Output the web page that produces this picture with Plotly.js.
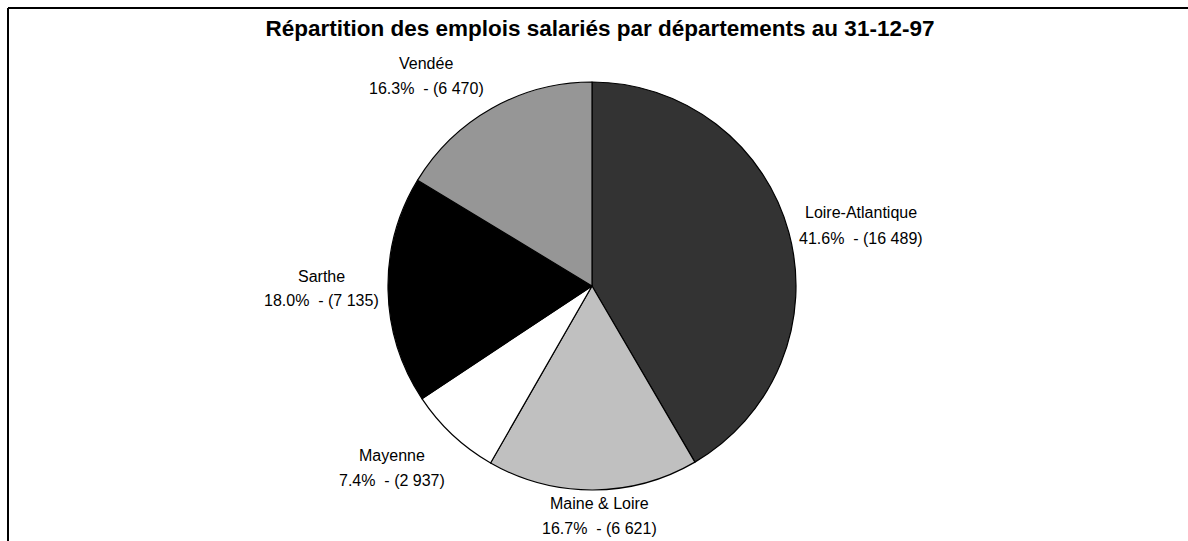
<!DOCTYPE html>
<html>
<head>
<meta charset="utf-8">
<script src="https://cdn.plot.ly/plotly-3.0.1.min.js"></script>
<style>
  html, body { margin: 0; padding: 0; background: #fff; }
  #chart { width: 1188px; height: 541px; }
</style>
</head>
<body>
<div id="chart"></div>
<script>
// ---- data ----
const departements = ["Loire-Atlantique", "Maine & Loire", "Mayenne", "Sarthe", "Vendée"];
const emplois = [16489, 6621, 2937, 7135, 6470];
const couleurs = ["#333333", "#c0c0c0", "#ffffff", "#000000", "#969696"];
const titre = "Répartition des emplois salariés par départements au 31-12-97";

// ---- layout helpers (pixel positions of the label centres) ----
const W = 1188, H = 541;
const labelPos = [
  {x: 861, y1: 212, y2: 238},
  {x: 599, y1: 503, y2: 528},
  {x: 392, y1: 455, y2: 480},
  {x: 321, y1: 276, y2: 300},
  {x: 426, y1: 63,  y2: 88}
];
const cx = 592, cy = 286, r = 204;

const total = emplois.reduce((a, b) => a + b, 0);
const fmt = v => String(v).replace(/\B(?=(\d{3})+(?!\d))/g, " ");

const labelFont = {family: "Liberation Sans, Arial, sans-serif", size: 16, color: "#000"};
const annotations = [];
departements.forEach((d, i) => {
  const p = labelPos[i];
  const pct = (emplois[i] / total * 100).toFixed(1);
  annotations.push({
    xref: "paper", yref: "paper", x: p.x / W, y: 1 - p.y1 / H,
    xanchor: "center", yanchor: "middle", showarrow: false,
    text: d, font: labelFont
  });
  annotations.push({
    xref: "paper", yref: "paper", x: p.x / W, y: 1 - p.y2 / H,
    xanchor: "center", yanchor: "middle", showarrow: false,
    text: pct + "%\u00a0 - (" + fmt(emplois[i]) + ")", font: labelFont
  });
});

const trace = {
  type: "pie",
  labels: departements,
  values: emplois,
  sort: false,
  direction: "clockwise",
  rotation: 0,
  textinfo: "none",
  hoverinfo: "label+value+percent",
  marker: {colors: couleurs, line: {color: "#000", width: 1.2}},
  domain: {x: [(cx - r) / W, (cx + r) / W], y: [1 - (cy + r) / H, 1 - (cy - r) / H]},
  showlegend: false
};

const layout = {
  width: W, height: H,
  margin: {l: 0, r: 0, t: 0, b: 0},
  paper_bgcolor: "#fff",
  plot_bgcolor: "#fff",
  showlegend: false,
  title: {
    text: "<b>" + titre + "</b>",
    font: {family: "Liberation Sans, Arial, sans-serif", size: 22.5, color: "#000"},
    x: 0.505, xanchor: "center", y: 1 - 28 / H, yanchor: "middle"
  },
  annotations: annotations,
  shapes: [
    {type: "line", xref: "paper", yref: "paper", x0: 8 / W, y0: 0, x1: 8 / W, y1: 1 - 8 / H,
     line: {color: "#000", width: 2}},
    {type: "line", xref: "paper", yref: "paper", x0: 8 / W, y0: 1 - 8 / H, x1: 1, y1: 1 - 8 / H,
     line: {color: "#000", width: 2}}
  ]
};

Plotly.newPlot("chart", [trace], layout, {displayModeBar: false, staticPlot: true});
</script>
</body>
</html>
